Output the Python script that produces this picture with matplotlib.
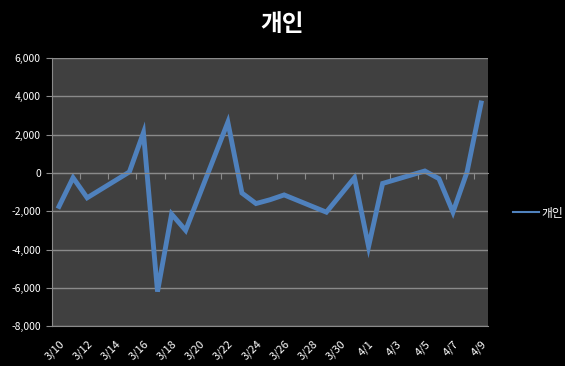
import datetime as dt
import matplotlib
matplotlib.use('Agg')
import matplotlib.pyplot as plt
import matplotlib.dates as mdates
from matplotlib.ticker import FuncFormatter, FixedLocator

plt.rcParams['font.family'] = ['Noto Sans CJK KR', 'DejaVu Sans']

# trading days (2010) and net buying of individuals
dates = ['3/10', '3/11', '3/12', '3/15', '3/16', '3/17', '3/18', '3/19',
         '3/22', '3/23', '3/24', '3/25', '3/26', '3/29', '3/30', '3/31',
         '4/1', '4/2', '4/5', '4/6', '4/7', '4/8', '4/9']
values = [-1750, -250, -1300, 50, 2100, -6200, -2150, -3000,
          2650, -1050, -1600, -1400, -1150, -2050, -1150, -250,
          -3850, -550, 100, -300, -2050, 50, 3650]
series_name = '개인'

def to_num(s):
    m, d = s.split('/')
    return mdates.date2num(dt.date(2010, int(m), int(d)))

x = [to_num(s) for s in dates]
first, last = to_num('3/10'), to_num('4/9')

fig = plt.figure(figsize=(5.65, 3.66), dpi=100, facecolor='black')
ax = fig.add_axes([0.092, 0.109, 0.772, 0.7325])
ax.set_facecolor('#404040')

ax.plot(x, values, color='#4F81BD', lw=3.5, solid_joinstyle='miter', label=series_name)

ax.set_xlim(first - 0.5, last + 0.5)
ax.set_ylim(-8000, 6000)
ax.set_yticks(range(-8000, 6001, 2000))
ax.yaxis.set_major_formatter(FuncFormatter(lambda v, p: f'{int(v):,}'))
ax.grid(axis='y', color='#8a8a8a', lw=1.0)
ax.set_axisbelow(True)

for s in ['top', 'right']:
    ax.spines[s].set_visible(False)
ax.spines['left'].set_color('#8a8a8a')
ax.spines['bottom'].set_color('#8a8a8a')
ax.spines['bottom'].set_position(('data', 0))

# tick marks on the zero line, between day slots
boundaries = [first + 1.5 + 2 * k for k in range(15)]
ax.xaxis.set_major_locator(FixedLocator(boundaries))
ax.tick_params(axis='x', length=4, color='#8a8a8a', labelbottom=False)
ax.tick_params(axis='y', length=4, color='#8a8a8a', labelsize=7.5, pad=4)
for t in ax.get_yticklabels():
    t.set_color('white')

# labels at the bottom of the plot area
sec = ax.secondary_xaxis(0.0)
label_days = [first + 2 * k for k in range(16)]
sec.set_xticks(label_days)
sec.set_xticklabels([mdates.num2date(d).strftime('%-m/%-d') for d in label_days],
                    rotation=45, ha='right', rotation_mode='anchor', fontsize=8, color='white')
sec.tick_params(length=0, pad=9)
sec.spines['bottom'].set_color('#8a8a8a')

fig.suptitle(series_name, x=0.5, y=0.968, color='white', fontsize=17, fontweight='bold')

leg = fig.legend(loc='center left', bbox_to_anchor=(0.89, 0.418), frameon=False,
                 fontsize=8.5, handlelength=2.2, handletextpad=0.2)
for t in leg.get_texts():
    t.set_color('white')
for h in leg.legend_handles:
    h.set_linewidth(1.5)

fig.savefig('out.png', dpi=100, facecolor='black')
